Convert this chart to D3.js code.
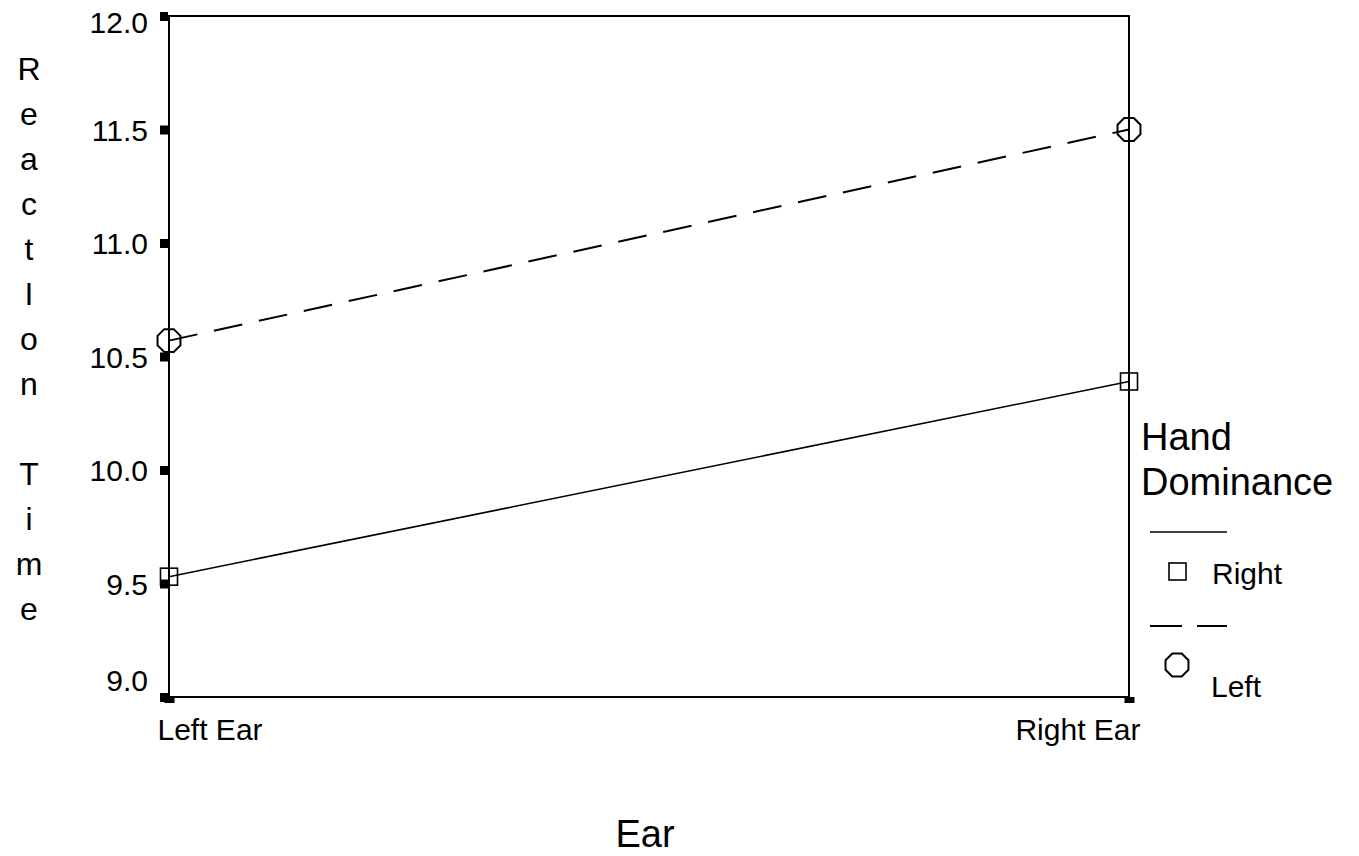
<!DOCTYPE html>
<html>
<head>
<meta charset="utf-8">
<script src="https://cdn.jsdelivr.net/npm/d3@7/dist/d3.min.js"></script>
<style>
  html, body { margin: 0; padding: 0; background: #fff; }
  svg { display: block; }
  text { font-family: "Liberation Sans", Arial, Helvetica, sans-serif; fill: #000; }
</style>
</head>
<body>
<svg id="chart" width="1359" height="856"></svg>
<script>
// ---- data ----
const categories = ["Left Ear", "Right Ear"];
const seriesNames = ["Right", "Left"];
const rightHandValues = [9.53, 10.39];
const leftHandValues = [10.57, 11.50];
const yTickValues = [9.0, 9.5, 10.0, 10.5, 11.0, 11.5, 12.0];
const yTickLabels = ["9.0", "9.5", "10.0", "10.5", "11.0", "11.5", "12.0"];
const yTitleLetters = ["R","e","a","c","t","I","o","n"," ","T","i","m","e"];
const xTitle = "Ear";
const legendTitle = ["Hand", "Dominance"];

// ---- layout ----
const svg = d3.select("#chart");
const plot = { left: 169, right: 1129, top: 16, bottom: 697 };

const x = d3.scalePoint().domain(categories).range([plot.left, plot.right]);
const y = d3.scaleLinear().domain([9, 12]).range([plot.bottom, plot.top]);

// frame
svg.append("rect")
  .attr("x", plot.left).attr("y", plot.top)
  .attr("width", plot.right - plot.left).attr("height", plot.bottom - plot.top)
  .attr("fill", "none").attr("stroke", "#000").attr("stroke-width", 2);

// y axis (labels via d3 axis, custom tick squares)
const yAxis = d3.axisLeft(y).tickValues(yTickValues)
  .tickFormat((d, i) => yTickLabels[i]).tickSize(0).tickPadding(0);
const yg = svg.append("g").attr("transform", `translate(${plot.left},0)`).call(yAxis);
yg.select(".domain").remove();
yg.selectAll(".tick text")
  .attr("x", 148 - plot.left)
  .attr("dy", "0.35em")
  .attr("y", function() {
    const t = d3.select(this.parentNode).attr("transform");
    const ty = +t.match(/,\s*([-\d.]+)/)[1];
    const clamped = Math.max(plot.top + 6, Math.min(plot.bottom - 17, ty));
    return clamped - ty;
  })
  .style("font-size", "30px").style("font-family", '"Liberation Sans", Arial, sans-serif')
  .attr("fill", "#000").attr("text-anchor", "end");
yg.selectAll(".tick").append("rect")
  .attr("x", 160 - plot.left).attr("y", -4.5).attr("width", 8).attr("height", 9)
  .attr("fill", "#000");

// x axis
const xAxis = d3.axisBottom(x).tickSize(0).tickPadding(0);
const xg = svg.append("g").attr("transform", `translate(0,${plot.bottom})`).call(xAxis);
xg.select(".domain").remove();
xg.selectAll(".tick text")
  .attr("y", 740 - plot.bottom).attr("dy", 0)
  .attr("text-anchor", (d, i) => i === 0 ? "start" : "end")
  .attr("x", (d, i) => i === 0 ? -12 : 11)
  .style("font-size", "30px").style("font-family", '"Liberation Sans", Arial, sans-serif')
  .attr("fill", "#000");
xg.selectAll(".tick").append("rect")
  .attr("x", -5).attr("y", 0).attr("width", 10).attr("height", 6)
  .attr("fill", "#000");

// y title (stacked letters)
svg.append("g").selectAll("text").data(yTitleLetters).join("text")
  .attr("x", 29).attr("y", (d, i) => 80 + i * 45)
  .attr("text-anchor", "middle")
  .style("font-size", "32px")
  .text(d => d);

// x title
svg.append("text").attr("x", 645).attr("y", 847)
  .attr("text-anchor", "middle").style("font-size", "38px").text(xTitle);

// ---- series ----
const line = d3.line().x((d, i) => x(categories[i])).y(d => y(d));

function octagonPath(cx, cy, r) {
  const pts = d3.range(8).map(k => {
    const a = Math.PI / 8 + k * Math.PI / 4;
    return [cx + r * Math.cos(a), cy + r * Math.sin(a)];
  });
  return "M" + pts.map(p => p.join(",")).join("L") + "Z";
}

// Right hand: solid, squares
svg.append("path").datum(rightHandValues).attr("d", line)
  .attr("fill", "none").attr("stroke", "#000").attr("stroke-width", 1.6);
svg.append("g").selectAll("rect").data(rightHandValues).join("rect")
  .attr("x", (d, i) => x(categories[i]) - 8.5).attr("y", d => y(d) - 8.5)
  .attr("width", 17).attr("height", 17)
  .attr("fill", "none").attr("stroke", "#000").attr("stroke-width", 1.6);

// Left hand: dashed, octagons
svg.append("path").datum(leftHandValues).attr("d", line)
  .attr("fill", "none").attr("stroke", "#000").attr("stroke-width", 2)
  .attr("stroke-dasharray", "29,17");
svg.append("g").selectAll("path").data(leftHandValues).join("path")
  .attr("d", (d, i) => octagonPath(x(categories[i]), y(d), 12.4))
  .attr("fill", "none").attr("stroke", "#000").attr("stroke-width", 2);

// ---- legend ----
const lg = svg.append("g");
lg.selectAll("text.title").data(legendTitle).join("text").attr("class", "title")
  .attr("x", 1141).attr("y", (d, i) => 450 + i * 45)
  .style("font-size", "38px").text(d => d);

// Right entry
lg.append("line").attr("x1", 1150).attr("x2", 1227).attr("y1", 532).attr("y2", 532)
  .attr("stroke", "#000").attr("stroke-width", 1.6);
lg.append("rect").attr("x", 1169).attr("y", 563).attr("width", 17).attr("height", 17)
  .attr("fill", "none").attr("stroke", "#000").attr("stroke-width", 1.6);
lg.append("text").attr("x", 1212).attr("y", 584).style("font-size", "30px").text(seriesNames[0]);

// Left entry
lg.append("line").attr("x1", 1150).attr("x2", 1227).attr("y1", 626).attr("y2", 626)
  .attr("stroke", "#000").attr("stroke-width", 2).attr("stroke-dasharray", "32,15");
lg.append("path").attr("d", octagonPath(1177, 665, 12.4))
  .attr("fill", "none").attr("stroke", "#000").attr("stroke-width", 2);
lg.append("text").attr("x", 1211).attr("y", 697).style("font-size", "30px").text(seriesNames[1]);
</script>
</body>
</html>
